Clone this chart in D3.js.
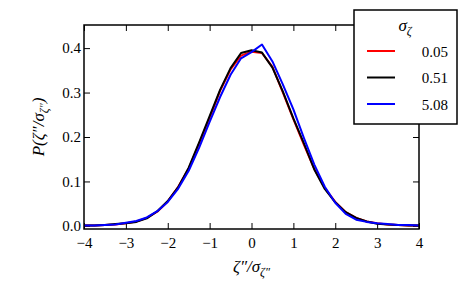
<!DOCTYPE html>
<html lang="en">
<head>
<meta charset="UTF-8">
<title>P(zeta'' / sigma)</title>
<style>
    body { margin: 0; background: #fff; }
    svg { display: block; }
    .axis text { font-family: "Liberation Serif", serif; font-size: 15px; fill: #000; }
    .axis path { stroke: none; }
    .axis line { stroke: #000; stroke-width: 1; }
    .lbl { font-family: "Liberation Serif", serif; font-style: italic; fill: #000; }
    .leg { font-family: "Liberation Serif", serif; font-size: 15px; fill: #000; }
</style>
<script src="https://d3js.org/d3.v7.min.js"></script>
</head>
<body>
<svg id="chart" width="467" height="288"></svg>
<script>
    // x positions (zeta''/sigma) shared by all curves
    const xs = d3.range(33).map(i => -4 + i * 0.25);

    const seriesNames = ["0.05", "0.51", "5.08"];
    const seriesColors = ["#ff0000", "#000000", "#0000ff"];

    const red = [0.001, 0.001, 0.002, 0.003, 0.006, 0.010, 0.018, 0.032, 0.055, 0.088, 0.129, 0.185, 0.243,
        0.304, 0.352, 0.383, 0.392, 0.389, 0.358, 0.300, 0.240, 0.183, 0.128, 0.085, 0.054, 0.031,
        0.018, 0.010, 0.006, 0.003, 0.002, 0.001, 0.001];
    const black = [0.001, 0.001, 0.002, 0.004, 0.006, 0.009, 0.017, 0.033, 0.056, 0.087, 0.131, 0.188, 0.247,
        0.306, 0.355, 0.389, 0.395, 0.390, 0.356, 0.302, 0.242, 0.186, 0.127, 0.083, 0.053, 0.031,
        0.018, 0.010, 0.005, 0.003, 0.002, 0.001, 0.001];
    const blue = [0.001, 0.001, 0.002, 0.003, 0.007, 0.011, 0.019, 0.033, 0.054, 0.084, 0.124, 0.176, 0.234,
        0.290, 0.340, 0.377, 0.391, 0.408, 0.370, 0.318, 0.262, 0.198, 0.138, 0.088, 0.052, 0.027,
        0.014, 0.009, 0.006, 0.004, 0.002, 0.002, 0.001];
    const seriesValues = [red, black, blue];

    const xTicks = [-4, -3, -2, -1, 0, 1, 2, 3, 4];
    const yTicks = [0.0, 0.1, 0.2, 0.3, 0.4];

    const svg = d3.select("#chart");
    const margin = { top: 25, right: 48, bottom: 59, left: 84 };
    const width = 467 - margin.left - margin.right;
    const height = 288 - margin.top - margin.bottom;

    const x = d3.scaleLinear().domain([-4, 4]).range([0, width]);
    const y = d3.scaleLinear().domain([-0.007, 0.452]).range([height, 0]);

    const g = svg.append("g").attr("transform", `translate(${margin.left},${margin.top})`);

    const fmtMinus = d => d3.format(".0f")(d).replace("-", "\u2212");

    // d3 sets font attrs on the axis group; clear them so the CSS wins
    const clean = sel => sel.attr("font-family", null).attr("font-size", null);

    g.append("g").attr("class", "axis")
        .attr("transform", `translate(0,${height})`)
        .call(d3.axisBottom(x).tickValues(xTicks).tickFormat(fmtMinus)
            .tickSizeInner(-6).tickSizeOuter(0).tickPadding(8))
        .call(clean);
    g.append("g").attr("class", "axis")
        .call(d3.axisTop(x).tickValues(xTicks).tickFormat("")
            .tickSizeInner(-6).tickSizeOuter(0));
    g.append("g").attr("class", "axis")
        .call(d3.axisLeft(y).tickValues(yTicks).tickFormat(d3.format(".1f"))
            .tickSizeInner(-6).tickSizeOuter(0).tickPadding(3))
        .call(clean);
    g.append("g").attr("class", "axis")
        .attr("transform", `translate(${width},0)`)
        .call(d3.axisRight(y).tickValues(yTicks).tickFormat("")
            .tickSizeInner(-6).tickSizeOuter(0));

    // curves
    const line = d3.line().x((d, i) => x(xs[i])).y(d => y(d));
    seriesValues.forEach((vals, k) => {
        g.append("path")
            .datum(vals)
            .attr("fill", "none")
            .attr("stroke", seriesColors[k])
            .attr("stroke-width", 2)
            .attr("stroke-linejoin", "round")
            .attr("d", line);
    });

    // frame
    g.append("rect")
        .attr("width", width).attr("height", height)
        .attr("fill", "none").attr("stroke", "#000").attr("stroke-width", 1.5);

    // axis labels
    const xl = svg.append("text").attr("class", "lbl")
        .attr("x", margin.left + width / 2).attr("y", 272)
        .attr("text-anchor", "middle").style("font-size", "17px");
    xl.append("tspan").text("\u03b6\u2033/\u03c3");
    xl.append("tspan").attr("dy", 4).style("font-size", "12px").text("\u03b6\u2033");

    const yl = svg.append("text").attr("class", "lbl")
        .attr("transform", `translate(44,${margin.top + height / 2}) rotate(-90)`)
        .attr("text-anchor", "middle").style("font-size", "17px");
    yl.append("tspan").text("P(\u03b6\u2033/\u03c3");
    yl.append("tspan").attr("dy", 4).style("font-size", "12px").text("\u03b6\u2033");
    yl.append("tspan").attr("dy", -4).text(")");

    // legend
    const lg = svg.append("g").attr("transform", "translate(354,10)");
    lg.append("rect").attr("width", 103).attr("height", 114)
        .attr("fill", "#fff").attr("stroke", "#000").attr("stroke-width", 1.5);
    const lt = lg.append("text").attr("class", "lbl")
        .attr("x", 51).attr("y", 21).attr("text-anchor", "middle").style("font-size", "17px");
    lt.append("tspan").text("\u03c3");
    lt.append("tspan").attr("dy", 4).style("font-size", "12px").text("\u03b6");
    seriesNames.forEach((name, k) => {
        const yy = 41 + k * 26.5;
        lg.append("line").attr("x1", 13).attr("x2", 41).attr("y1", yy).attr("y2", yy)
            .attr("stroke", seriesColors[k]).attr("stroke-width", 2);
        lg.append("text").attr("class", "leg")
            .attr("x", 94).attr("y", yy + 5.5)
            .attr("text-anchor", "end")
            .text(name);
    });
</script>
</body>
</html>
